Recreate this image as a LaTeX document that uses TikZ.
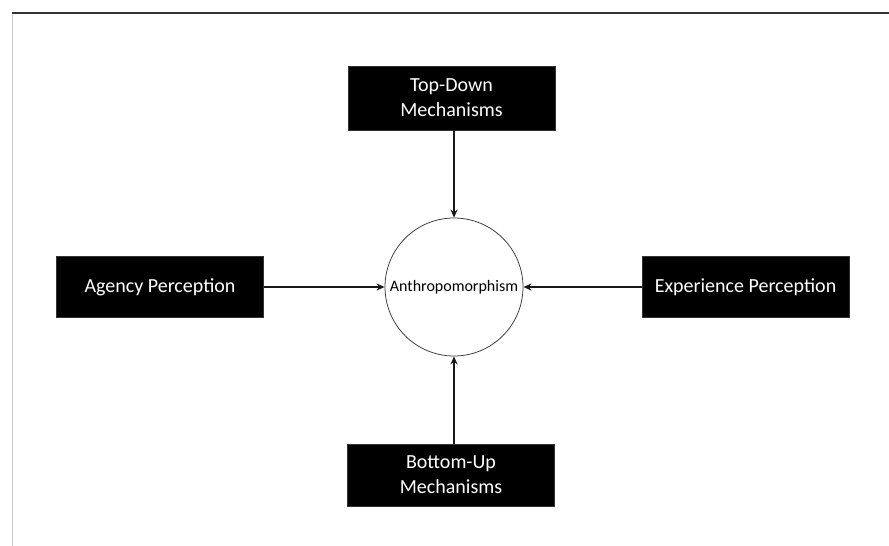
\documentclass[tikz,border=0pt]{standalone}
\usepackage{fontspec}
\setmainfont{Carlito}
\usetikzlibrary{arrows.meta}
\tikzset{
  blackbox/.style={fill=black, draw=black!80, line width=0.6pt, text=white,
    minimum width=207pt, inner sep=0pt, align=center,
    font=\fontsize{20}{25}\selectfont},
  hubcircle/.style={circle, draw=black!75, line width=0.8pt, minimum size=138pt,
    inner sep=0pt, font=\fontsize{16}{18}\selectfont},
  link/.style={draw=black!90, line width=1.8pt, -{Stealth[length=8pt,width=7pt]}}
}
\begin{document}
\begin{tikzpicture}[x=1pt,y=-1pt]
  \useasboundingbox (0,0) rectangle (889,546);
  \fill[white] (0,0) rectangle (889,546);
  % frame edges
  \draw[line width=0.9pt, black!20] (12,12) -- (12,546);
  \draw[line width=2pt, black!80] (12,12.5) -- (889,12.5);

  % centre concept
  \node[hubcircle] (hub) at (454,287) {Anthropomorphism};

  % surrounding factors
  \node[blackbox, minimum height=64pt] (topdown) at (451.5,98) {Top-Down\\Mechanisms};
  \node[blackbox, minimum height=62pt] (bottomup) at (451,475) {Bottom-Up\\Mechanisms};
  \node[blackbox, minimum height=61pt] (agency) at (160,287) {Agency Perception};
  \node[blackbox, minimum height=61pt] (experience) at (745.5,287) {Experience Perception};

  % influences pointing into the centre
  \draw[link] (hub.north |- topdown.south) -- (hub.north);
  \draw[link] (hub.south |- bottomup.north) -- (hub.south);
  \draw[link] (agency.east) -- (hub.west);
  \draw[link] (experience.west) -- (hub.east);
\end{tikzpicture}
\end{document}
